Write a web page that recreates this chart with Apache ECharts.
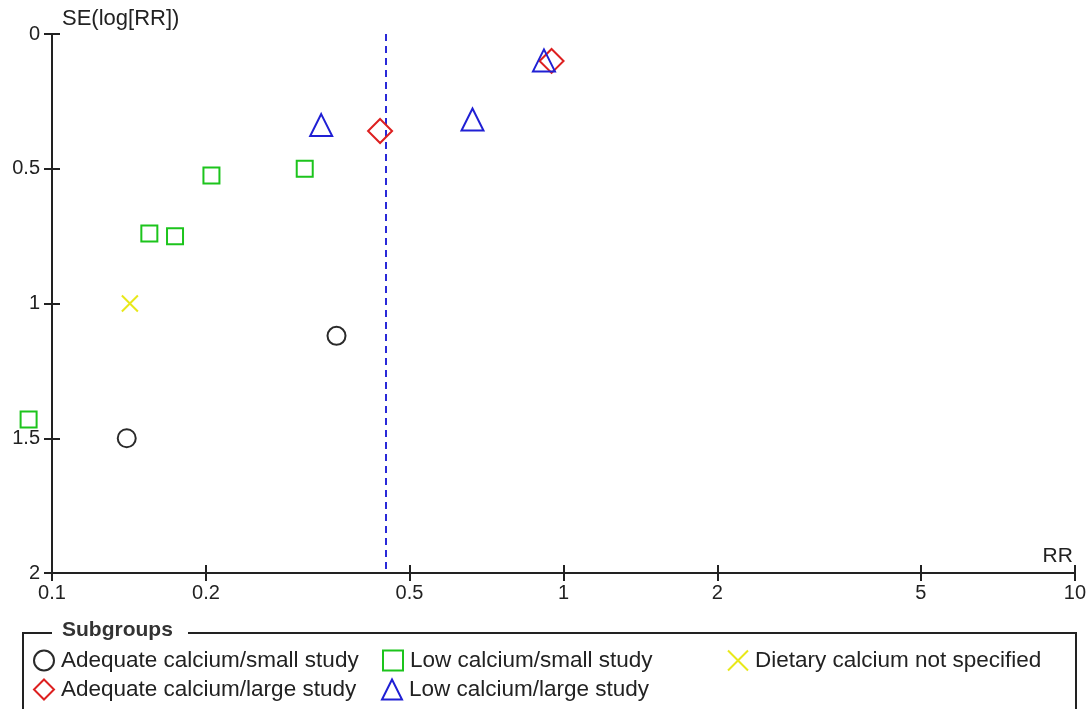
<!DOCTYPE html>
<html>
<head>
<meta charset="utf-8">
<script src="https://cdn.jsdelivr.net/npm/echarts@6/dist/echarts.min.js"></script>
<style>
html,body{margin:0;padding:0;background:#fff;}
#chart{width:1089px;height:709px;}
</style>
</head>
<body>
<div id="chart"></div>
<script>
// ---- data (RR, SE(log[RR])) ----
const adequateSmall = [[0.14, 1.50], [0.36, 1.12]];
const lowSmall = [[0.090, 1.43], [0.155, 0.74], [0.174, 0.75], [0.205, 0.525], [0.312, 0.50]];
const notSpecified = [[0.142, 1.00]];
const adequateLarge = [[0.438, 0.36], [0.948, 0.10]];
const lowLarge = [[0.336, 0.338], [0.664, 0.317], [0.916, 0.098]];
const pooledRR = 0.45;
const xTicks = [0.1, 0.2, 0.5, 1, 2, 5, 10];
const yTicks = [0, 0.5, 1, 1.5, 2];
const seriesNames = [
  'Adequate calcium/small study',
  'Low calcium/small study',
  'Dietary calcium not specified',
  'Adequate calcium/large study',
  'Low calcium/large study'
];

const FONT = '"Liberation Sans", Arial, sans-serif';
const TXT = '#222';
const crossPath = 'path://M0,0L10,10M10,0L0,10';

const chart = echarts.init(document.getElementById('chart'));

function axisX(showLabels, inside) {
  return {
    type: 'log', logBase: 10, min: 0.1, max: 10,
    gridIndex: 0,
    position: 'bottom',
    name: showLabels ? 'RR' : '',
    nameLocation: 'end',
    nameGap: 0,
    nameTextStyle: {fontFamily: FONT, fontSize: 21, color: TXT, align: 'right', verticalAlign: 'bottom', padding: [0, 2, 6, 0]},
    axisLine: {show: showLabels, onZero: false, lineStyle: {color: TXT, width: 2}},
    axisTick: {show: true, inside: inside, length: 8, lineStyle: {color: TXT, width: 2}, customValues: xTicks},
    axisLabel: {show: showLabels, customValues: xTicks, fontFamily: FONT, fontSize: 20, color: TXT, margin: 10,
      formatter: v => String(+v.toPrecision(3))},
    minorTick: {show: false},
    splitLine: {show: false}
  };
}
function axisY(showLabels, inside) {
  return {
    type: 'value', inverse: true, min: 0, max: 2, interval: 0.5,
    gridIndex: 0,
    position: 'left',
    name: showLabels ? 'SE(log[RR])' : '',
    nameLocation: 'start',
    nameGap: 4,
    nameTextStyle: {fontFamily: FONT, fontSize: 22, color: TXT, align: 'left', verticalAlign: 'bottom', padding: [0, 0, 0, 10]},
    axisLine: {show: showLabels, onZero: false, lineStyle: {color: TXT, width: 2}},
    axisTick: {show: true, inside: inside, length: 8, lineStyle: {color: TXT, width: 2}},
    axisLabel: {show: showLabels, fontFamily: FONT, fontSize: 20, color: TXT, margin: 12},
    splitLine: {show: false}
  };
}

function sc(name, data, symbol, size, color, width) {
  return {
    name: name, type: 'scatter', data: data,
    xAxisIndex: 0, yAxisIndex: 0,
    symbol: symbol, symbolSize: size, clip: false,
    itemStyle: {color: 'rgba(0,0,0,0)', borderColor: color, borderWidth: width, opacity: 1},
    emphasis: {disabled: true},
    z: 5
  };
}

const series = [
  sc(seriesNames[0], adequateSmall, 'circle', 18, '#2a2a2a', 2),
  sc(seriesNames[1], lowSmall, 'rect', 16, '#1cc41c', 2),
  sc(seriesNames[2], notSpecified, crossPath, 16, '#e8e81a', 2),
  sc(seriesNames[3], adequateLarge, 'diamond', 24, '#dd2020', 2),
  sc(seriesNames[4], lowLarge, 'triangle', 22, '#2020d4', 2)
];
series[0].markLine = {
  silent: true, symbol: 'none', label: {show: false},
  lineStyle: {color: '#2a2ad8', type: [7, 5], width: 2, opacity: 1},
  data: [{xAxis: pooledRR}],
  animation: false
};

function leg(i, left, top) {
  return {
    data: [seriesNames[i]], left: left, top: top, padding: 0,
    itemWidth: 20, itemHeight: 20, selectedMode: false,
    textStyle: {fontFamily: FONT, fontSize: 22.5, color: TXT, padding: [0, 0, 0, 2]}
  };
}

chart.setOption({
  animation: false,
  backgroundColor: '#fff',
  grid: {left: 52, right: 14, top: 34, bottom: 136, containLabel: false},
  xAxis: [axisX(true, false), axisX(false, true)],
  yAxis: [axisY(true, false), axisY(false, true)],
  legend: [
    leg(0, 33, 649), leg(1, 382, 649), leg(2, 727, 649),
    leg(3, 33, 678), leg(4, 381, 678)
  ],
  graphic: [
    {type: 'polyline', silent: true, shape: {points: [[52, 633], [23, 633], [23, 712]]}, style: {stroke: TXT, lineWidth: 2, fill: null}},
    {type: 'polyline', silent: true, shape: {points: [[188, 633], [1076, 633], [1076, 712]]}, style: {stroke: TXT, lineWidth: 2, fill: null}},
    {type: 'text', silent: true, left: 62, top: 620, style: {text: 'Subgroups', font: 'bold 21px ' + FONT, fill: '#333'}}
  ],
  series: series
});
</script>
</body>
</html>
